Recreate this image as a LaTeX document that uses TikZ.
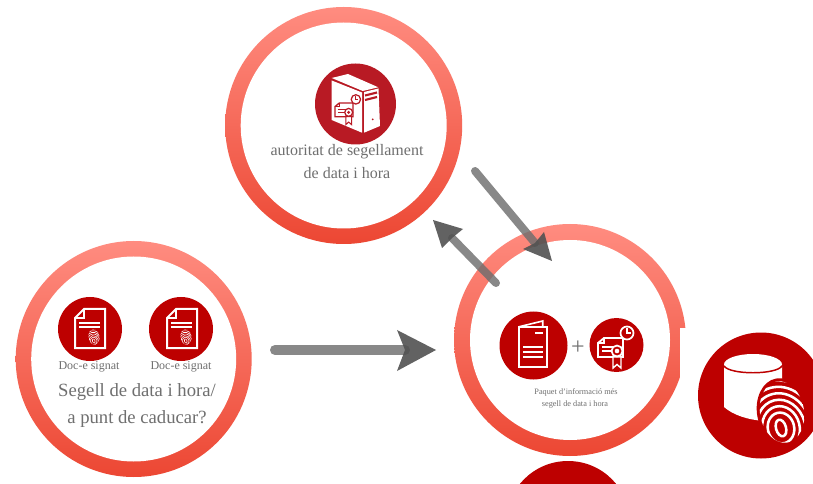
\documentclass[tikz,border=0pt]{standalone}
\usepackage{fontspec}
\setmainfont{Liberation Serif}
\definecolor{ringtop}{HTML}{FF8C80}
\definecolor{ringbot}{HTML}{EC4733}
\definecolor{iconred}{HTML}{BD0000}
\definecolor{servred}{HTML}{B81A24}
\definecolor{txtgray}{HTML}{6F6F6F}
\definecolor{headgray}{HTML}{525252}
\definecolor{shaftgray}{HTML}{6E6E6E}
\tikzset{
  ring/.style={top color=ringtop,bottom color=ringbot,draw=none},
  inner/.style={fill=white,draw=none},
  disc/.style={fill=iconred,draw=none},
  lbl/.style={text=txtgray,inner sep=0pt,align=center},
  wl/.style={draw=white,line width=1.5pt,fill=none,line join=miter},
  shaftline/.style={draw=shaftgray,opacity=.82,line cap=round,line width=#1},
  headfill/.style={fill=headgray,opacity=.9,draw=none}
}
% fingerprint: x y scale linewidth colour
\newcommand{\fprint}[5]{%
  \begin{scope}[shift={(#1,#2)},scale=#3]
    \begin{scope}
      \clip[rotate=10] (0,0) ellipse (22 and 31);
      \foreach \r in {15.5,22,28.5,35,41.5,48}{
        \draw[#5,line width=#4,rotate around={14:(-1,16)}] (-1,16) ellipse ({.85*\r} and \r);
      }
      \draw[#5,line width=#4,rotate around={16:(-1,16)}] (-1,16) ellipse (5 and 8.5);
    \end{scope}
  \end{scope}}
% document with fold and fingerprint
\newcommand{\docicon}[1]{%
  \begin{scope}[shift={#1}]
    \draw[wl] (-6,-20) -- (15,-20) -- (15,19) -- (-15,19) -- (-15,-11) -- cycle;
    \draw[wl,line width=.9pt] (-15,-11) -- (-6,-11) -- (-6,-20);
    \draw[wl,line width=1.2pt] (-11,-6) -- (10,-6);
    \draw[wl,line width=1.2pt] (-11,-2) -- (10,-2);
    \fprint{4}{8}{.25}{.45pt}{white}
  \end{scope}}
% certificate with clock: x y scale stroke bg
\newcommand{\certicon}[5]{%
  \begin{scope}[shift={(#1,#2)},scale=#3,line join=miter]
    \draw[#4,line width=1.4pt*#3] (6,0) -- (25,0) -- (25,19) -- (0,19) -- (0,5) -- cycle;
    \draw[#4,line width=1pt*#3] (0,5) -- (6,5) -- (6,0);
    \draw[#4,line width=1.2pt*#3] (4,9) -- (17,9) (4,13) -- (14,13);
    \draw[#4,line width=1.3pt*#3,fill=#5] (29,-5) circle (6.5);
    \draw[#4,line width=1pt*#3] (29,-9.5) -- (29,-5) -- (32.5,-5);
    \draw[#4,line width=1.1pt*#3,fill=#5] (15,19) -- (15,30) -- (19,26.5) -- (23,30) -- (23,19) -- cycle;
    \draw[#4,line width=1.3pt*#3,fill=#5] (19,13) circle (5.5);
    \fill[#4] (19,13) circle (2.3);
  \end{scope}}
\begin{document}
\begin{tikzpicture}[x=.75pt,y=-.75pt]
\useasboundingbox (0,0) rectangle (813,484);
\begin{scope}
\clip (0,0) rectangle (813,484);
\fill[white] (0,0) rectangle (813,484);

% rings
\shade[ring] (343.7,125.5) circle (118.5);
\fill[inner] (343.7,125.5) circle (103);
\shade[ring] (133.7,359) circle (118);
\fill[inner] (133.7,359) circle (102.5);
\shade[ring] (570,340) circle (116);
\fill[inner] (570,340) circle (100);
\fill[white] (680,328) rectangle (700,460);

% top circle: server
\fill[servred] (355.5,104) circle (40.5);
\fill[white] (331.7,78) -- (348,74) -- (378.3,87.3) -- (362.7,91) -- cycle;
\fill[white] (331.7,80.5) -- (362,92.5) -- (362,132.7) -- (331.7,120) -- cycle;
\fill[white] (364,92) -- (378.5,88.5) -- (380,126) -- (364,132.7) -- cycle;
\draw[servred,line width=1.6pt] (365,95.5) -- (377,92.5) (365,100) -- (377,97);
\fill[servred] (372.7,119.3) circle (1);
\certicon{335}{103}{.72}{servred}{white}

% left circle: documents
\fill[disc] (90,329) circle (32);
\fill[disc] (181,329) circle (32);
\docicon{(90,329)}
\docicon{(182,329)}

% right circle: packet
\fill[disc] (533.5,345.5) circle (34);
\fill[disc] (616.5,345) circle (27);
\draw[wl,line width=1.5pt] (519.3,326.7) -- (546.7,326.7) -- (546.7,366.7) -- (519.3,366.7) -- cycle;
\draw[wl,line width=1.2pt] (519.3,326.7) -- (542.7,321) -- (542.7,326.7);
\draw[wl,line width=1.1pt] (535,333) -- (543,333) (523,347) -- (543,347) (523,352) -- (543,352) (523,357) -- (543,357);
\certicon{598}{338}{1}{white}{iconred}

% bottom and right icons
\fill[disc] (568,523) circle (62);
\fill[disc] (761,395.5) circle (63);
\fill[white] (724,366) -- (724,407) .. controls (733,415) and (748,420) .. (765,421) -- (782,400) -- (782,366) -- cycle;
\fill[white] (753,364.5) ellipse (29 and 10.5);
\draw[iconred,line width=1.1pt] (724,366) .. controls (730,375) and (776,375) .. (782,366);
\fill[iconred,rotate around={10:(782,412)}] (782,412) ellipse (25 and 34);
\fprint{782}{412}{1}{1.9pt}{white}

% texts
\node[lbl,font=\fontsize{12}{14}\selectfont] (t1) at (347,152) {autoritat de segellament};
\node[lbl,font=\fontsize{12}{14}\selectfont] (t2) at (347,173) {de data i hora};
\node[lbl,font=\fontsize{9}{11}\selectfont] (t3) at (89,367) {Doc-e signat};
\node[lbl,font=\fontsize{9}{11}\selectfont] (t4) at (181,367) {Doc-e signat};
\node[lbl,font=\fontsize{14}{16}\selectfont] (t5) at (137,392) {Segell de data i hora/};
\node[lbl,font=\fontsize{14}{16}\selectfont] (t6) at (137,419) {a punt de caducar?};
\node[lbl,font=\fontsize{6.2}{8}\selectfont] (t7) at (576,392) {Paquet d'informació més};
\node[lbl,font=\fontsize{6.2}{8}\selectfont] (t8) at (575,405) {segell de data i hora};
\node[lbl,font=\fontsize{18}{20}\selectfont] (plus) at (578,348) {+};

% arrows
\coordinate (a1s) at (275,350);
\coordinate (a1n) at (405,350);
\coordinate (a1e) at (436,350);
\coordinate (a1u) at (397,330);
\coordinate (a1d) at (397,371);
\coordinate (a2s) at (475,171);
\coordinate (a2n) at (535,243);
\coordinate (a2e) at (552,261);
\coordinate (a2u) at (544,232);
\coordinate (a2d) at (523,249);
\coordinate (a3s) at (496,283);
\coordinate (a3n) at (452,238);
\coordinate (a3e) at (433,220);
\coordinate (a3u) at (463,229);
\coordinate (a3d) at (442,248);
\draw[shaftline=7.5pt] (a1s) -- (a1n);
\fill[headfill] (a1e) -- (a1u) -- (a1n) -- (a1d) -- cycle;
\draw[shaftline=6pt] (a2s) -- (a2n);
\fill[headfill] (a2e) -- (a2u) -- (a2n) -- (a2d) -- cycle;
\draw[shaftline=6pt] (a3s) -- (a3n);
\fill[headfill] (a3e) -- (a3u) -- (a3n) -- (a3d) -- cycle;
\end{scope}
\end{tikzpicture}
\end{document}
